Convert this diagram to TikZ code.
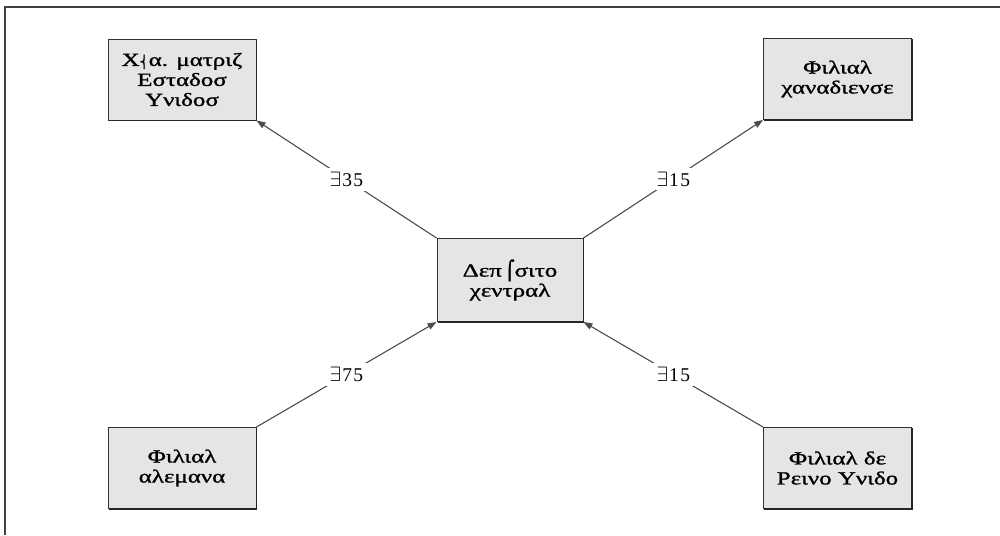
\documentclass[tikz,border=0pt]{standalone}
\usepackage{fontspec}
\setmainfont{Liberation Serif}
\newfontfamily\greekf[FakeStretch=1.35,FakeBold=1.3]{Liberation Serif}
\newfontfamily\symf[FakeBold=1.3]{DejaVu Sans}
\newfontfamily\numf{Liberation Serif}
\usetikzlibrary{arrows.meta}
\begin{document}
\begin{tikzpicture}[x=1pt,y=-1pt,
  boxnode/.style={draw=black!80, line width=0.9pt, fill=black!10, minimum width=148pt, minimum height=81pt, align=center, font=\greekf\fontsize{18.5}{20}\selectfont, inner sep=0pt},
  shadowline/.style={draw=black!85, line width=1.6pt},
  link/.style={draw=black!70, line width=1.1pt, -{Triangle[length=9pt,width=6.5pt]}},
  amt/.style={fill=white, font=\numf\fontsize{19.5}{20}\selectfont, inner sep=4pt}]
\useasboundingbox (0,0) rectangle (1000,535);
\draw[black!75, line width=1.5pt] (5,535) -- (5,7) -- (1000,7);
\node[boxnode] (us) at (182,79.5) {Χ{\symf\fontsize{12}{12}\selectfont ⎨}α. ματριζ\\Εσταδοσ\\Υνιδοσ};
\node[boxnode] (ca) at (837.5,79) {Φιλιαλ\\χαναδιενσε};
\node[boxnode, minimum width=146pt, minimum height=83pt] (dep) at (510,280) {Δεπ\,{\symf ⌠}σιτο\\χεντραλ};
\node[boxnode] (de) at (182,468) {Φιλιαλ\\αλεμανα};
\node[boxnode] (uk) at (837.5,468) {Φιλιαλ δε\\Ρεινο Υνιδο};
\foreach \n in {us,ca,dep,de,uk}
  \draw[shadowline] ([yshift=-1pt]\n.north east) -- (\n.south east) -- ([xshift=1pt]\n.south west);
\draw[link] (dep.north west) -- node[amt] {$\exists$\kern1pt 3\kern1.5pt 5} (us.south east);
\draw[link] (dep.north east) -- node[amt] {$\exists$\kern1pt 1\kern1.5pt 5} (ca.south west);
\draw[link] (de.north east) -- node[amt] {$\exists$\kern1pt 7\kern1.5pt 5} (dep.south west);
\draw[link] (uk.north west) -- node[amt] {$\exists$\kern1pt 1\kern1.5pt 5} (dep.south east);
\end{tikzpicture}
\end{document}
